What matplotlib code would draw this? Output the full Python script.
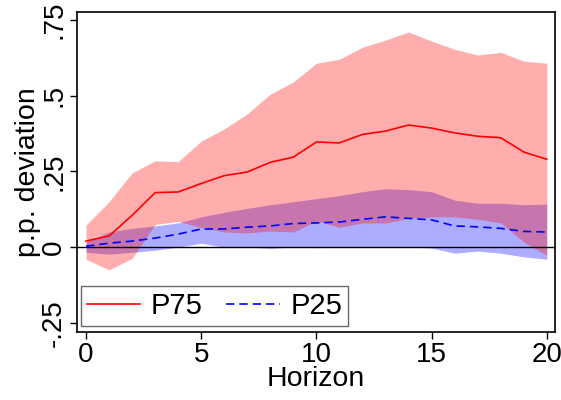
import matplotlib
matplotlib.use("Agg")
import matplotlib.pyplot as plt
import numpy as np

plt.rcParams['font.family'] = ['Liberation Sans', 'DejaVu Sans']

horizon = list(range(21))
p75 = [0.02, 0.037, 0.105, 0.18, 0.182, 0.21, 0.236, 0.248, 0.28, 0.297, 0.347,
       0.344, 0.372, 0.383, 0.403, 0.393, 0.377, 0.366, 0.361, 0.314, 0.29]
p75_hi = [0.073, 0.15, 0.245, 0.285, 0.282, 0.35, 0.39, 0.44, 0.505, 0.545, 0.607,
          0.62, 0.66, 0.683, 0.71, 0.68, 0.653, 0.634, 0.643, 0.614, 0.607]
p75_lo = [-0.04, -0.075, -0.037, 0.075, 0.085, 0.065, 0.05, 0.047, 0.053, 0.05, 0.086,
          0.066, 0.08, 0.08, 0.095, 0.10, 0.10, 0.092, 0.08, 0.017, -0.027]
p25 = [0.003, 0.013, 0.02, 0.03, 0.043, 0.06, 0.06, 0.066, 0.07, 0.078, 0.08,
       0.083, 0.092, 0.1, 0.095, 0.09, 0.07, 0.067, 0.062, 0.052, 0.05]
p25_hi = [0.017, 0.05, 0.062, 0.07, 0.08, 0.1, 0.115, 0.128, 0.14, 0.15, 0.16,
          0.17, 0.183, 0.193, 0.19, 0.183, 0.155, 0.145, 0.145, 0.14, 0.142]
p25_lo = [-0.017, -0.023, -0.017, -0.01, 0.0, 0.013, 0.0, 0.0, -0.004, 0.0, -0.002,
          0.0, 0.0, 0.0, 0.0, -0.003, -0.02, -0.013, -0.02, -0.032, -0.04]

yticks = [-0.25, 0, 0.25, 0.5, 0.75]
yticklabels = ["-.25", "0", ".25", ".5", ".75"]
xticks = [0, 5, 10, 15, 20]

fig = plt.figure(figsize=(5.61, 4.0), dpi=100)
ax = fig.add_axes([0.137, 0.17, 0.852, 0.80])

ax.fill_between(horizon, p25_lo, p25_hi, color='blue', alpha=0.32, linewidth=0)
ax.fill_between(horizon, p75_lo, p75_hi, color='red', alpha=0.32, linewidth=0)
ax.axhline(0, color='black', linewidth=1.0)
l1, = ax.plot(horizon, p75, color='red', linewidth=1.2, label='P75')
l2, = ax.plot(horizon, p25, color='blue', linewidth=1.2, linestyle=(0, (5, 3)), label='P25')

ax.set_xlim(-0.4, 20.35)
ax.set_ylim(-0.28, 0.776)
ax.set_xticks(xticks)
ax.set_yticks(yticks)
ax.set_yticklabels(yticklabels, rotation=90, va='center')
ax.tick_params(axis='both', labelsize=20, length=5, width=1, direction='out', pad=2)
ax.set_xlabel('Horizon', fontsize=20.5, labelpad=-1)
ax.set_ylabel('p.p. deviation', fontsize=20.5, labelpad=0)
for s in ax.spines.values():
    s.set_linewidth(1.2)

leg = ax.legend(handles=[l1, l2], loc='lower left', bbox_to_anchor=(0.008, 0.019),
                borderaxespad=0, ncol=2, fontsize=21, frameon=True, fancybox=False,
                handlelength=1.83, handletextpad=0.38, columnspacing=0.8,
                borderpad=0.2)
leg.get_frame().set_edgecolor('#444444')
leg.get_frame().set_linewidth(1.0)

fig.savefig('out.png', dpi=100)
